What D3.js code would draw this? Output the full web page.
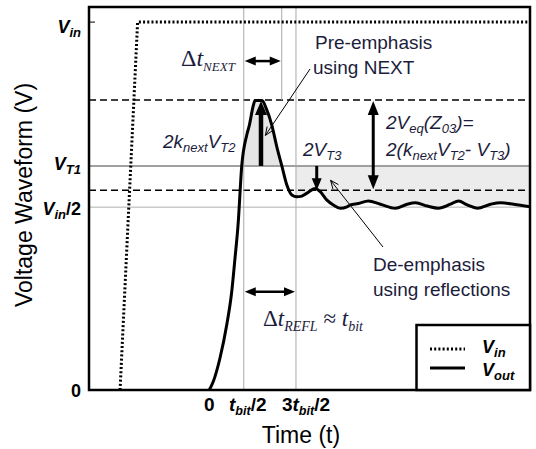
<!DOCTYPE html>
<html>
<head>
<meta charset="utf-8">
<script src="https://cdn.jsdelivr.net/npm/d3@7"></script>
<style>
  body { margin: 0; background: #fff; }
  svg { display: block; }
</style>
</head>
<body>
<div id="chart"></div>
<script>
// ---- data (time in arbitrary units, voltage normalised to Vin = 1) ----
var vinT = [-89, -71.5, 321];
var vinV = [0, 1, 1];

var voutT = [0, 4, 10.7, 17.4, 22.4, 25.7, 28.7, 32.4, 37.4, 40, 44, 45.7, 52.7, 56.7, 62.4, 67.4,
  72.4, 77.4, 82.4, 87.4, 92.4, 97.4, 105.7, 110.7, 117.4, 123.7, 130.7, 137.4, 140.7, 148.7,
  158.7, 170.7, 185.7, 197.4, 205.7, 217.4, 228.7, 240.7, 248.7, 257.4, 267.4, 280.7, 290.7,
  303.7, 320.5];
var voutV = [0, 0.023, 0.087, 0.177, 0.267, 0.359, 0.448, 0.609, 0.693, 0.72, 0.774, 0.787, 0.787,
  0.766, 0.72, 0.661, 0.609, 0.557, 0.53, 0.525, 0.527, 0.535, 0.548, 0.539, 0.516, 0.503, 0.494,
  0.498, 0.503, 0.507, 0.514, 0.505, 0.494, 0.505, 0.509, 0.5, 0.494, 0.505, 0.514, 0.503, 0.494,
  0.505, 0.509, 0.505, 0.498];

var yTickVals = [0, 0.497, 0.609, 1];
var xTickVals = [0, 34.4, 86.5];
var tNext = 72.3;          // end of the NEXT window
var vPeak = 0.788;         // upper dashed level
var vT1 = 0.609;
var vLow = 0.543;          // lower dashed level

// ---- layout ----
var svgwidth = 536, svgheight = 449;
var frame = { left: 89, top: 7, right: 530, bottom: 390 };
var ink = "#1c1c3c";
var sans = "Arial, 'Liberation Sans', sans-serif";
var serif = "'Times New Roman', 'Liberation Serif', serif";

var svg = d3.select("#chart").append("svg")
  .attr("width", svgwidth)
  .attr("height", svgheight);

var defs = svg.append("defs");
defs.append("clipPath").attr("id", "plotclip")
  .append("rect")
  .attr("x", frame.left).attr("y", frame.top)
  .attr("width", frame.right - frame.left).attr("height", frame.bottom - frame.top);

var xscale = d3.scaleLinear().domain([-120, 320]).range([frame.left, frame.right]);
var yscale = d3.scaleLinear().domain([0, 1.041]).range([frame.bottom, frame.top]);

var vin = vinT.map(function(t, i) { return { t: t, v: vinV[i] }; });
var vout = voutT.map(function(t, i) { return { t: t, v: voutV[i] }; });

// rich text helper: parts = [{t, sub, style, size}]
function richText(sel, x, y, parts, o) {
  var txt = sel.append("text")
    .attr("x", x).attr("y", y)
    .attr("font-family", o.family || sans)
    .attr("font-size", o.size)
    .attr("font-weight", o.weight || "normal")
    .attr("font-style", o.style || "normal")
    .attr("text-anchor", o.anchor || "start")
    .attr("fill", o.fill || "#000");
  var shift = 0;
  var subShift = o.subShift != null ? o.subShift : o.size * 0.32;
  parts.forEach(function(p) {
    var target = p.sub ? subShift : 0;
    var s = txt.append("tspan").text(p.t).attr("dy", target - shift);
    shift = target;
    if (p.sub) s.attr("font-size", o.subSize || o.size * 0.68);
    if (p.size) s.attr("font-size", p.size);
    if (p.style) s.attr("font-style", p.style);
    if (p.family) s.attr("font-family", p.family);
    if (p.weight) s.attr("font-weight", p.weight);
  });
  return txt;
}

function arrowHead(g, x, y, dir, len, wid) {
  // dir: "up", "down", "left", "right" ; (x,y) is the tip
  var pts;
  if (dir === "up") pts = [[x, y], [x - wid / 2, y + len], [x + wid / 2, y + len]];
  if (dir === "down") pts = [[x, y], [x - wid / 2, y - len], [x + wid / 2, y - len]];
  if (dir === "left") pts = [[x, y], [x + len, y - wid / 2], [x + len, y + wid / 2]];
  if (dir === "right") pts = [[x, y], [x - len, y - wid / 2], [x - len, y + wid / 2]];
  g.append("polygon").attr("points", pts.map(function(p) { return p.join(","); }).join(" "))
    .attr("fill", "#000");
}

var plot = svg.append("g").attr("clip-path", "url(#plotclip)");

// ---- shaded areas ----
var shadeArea = d3.area()
  .x(function(d) { return xscale(d.t); })
  .y0(yscale(vT1))
  .y1(function(d) { return yscale(d.v); })
  .curve(d3.curveMonotoneX);

defs.append("clipPath").attr("id", "peakclip").append("rect")
  .attr("x", xscale(xTickVals[1])).attr("y", frame.top)
  .attr("width", xscale(tNext) - xscale(xTickVals[1])).attr("height", yscale(vT1) - frame.top);
defs.append("clipPath").attr("id", "bandclip").append("rect")
  .attr("x", xscale(xTickVals[2])).attr("y", yscale(vT1))
  .attr("width", frame.right - xscale(xTickVals[2])).attr("height", 60);

plot.append("path").datum(vout).attr("d", shadeArea)
  .attr("fill", "#e6e6e6").attr("clip-path", "url(#peakclip)");
plot.append("path").datum(vout).attr("d", shadeArea)
  .attr("fill", "#ececec").attr("clip-path", "url(#bandclip)");

// ---- reference lines ----
plot.append("line")
  .attr("x1", frame.left).attr("x2", frame.right)
  .attr("y1", yscale(0.497)).attr("y2", yscale(0.497))
  .attr("stroke", "#b0b0b0").attr("stroke-width", 1);
plot.append("line")
  .attr("x1", frame.left).attr("x2", frame.right)
  .attr("y1", yscale(vT1)).attr("y2", yscale(vT1))
  .attr("stroke", "#a0a0a0").attr("stroke-width", 2);
[vPeak, vLow].forEach(function(v) {
  plot.append("line")
    .attr("x1", frame.left).attr("x2", frame.right)
    .attr("y1", yscale(v)).attr("y2", yscale(v))
    .attr("stroke", "#000").attr("stroke-width", 1.5)
    .attr("stroke-dasharray", "7,4");
});
[xTickVals[1], xTickVals[2]].forEach(function(t) {
  plot.append("line")
    .attr("x1", xscale(t)).attr("x2", xscale(t))
    .attr("y1", frame.top).attr("y2", frame.bottom)
    .attr("stroke", "#a8a8a8").attr("stroke-width", 1);
});
plot.append("line")
  .attr("x1", xscale(tNext)).attr("x2", xscale(tNext))
  .attr("y1", frame.top).attr("y2", yscale(vPeak))
  .attr("stroke", "#a8a8a8").attr("stroke-width", 1);

// ---- series ----
var line = d3.line()
  .x(function(d) { return xscale(d.t); })
  .y(function(d) { return yscale(d.v); });

plot.append("path").datum(vin)
  .attr("d", line)
  .attr("fill", "none").attr("stroke", "#000").attr("stroke-width", 3)
  .attr("stroke-dasharray", "2,2.2");

plot.append("path").datum(vout)
  .attr("d", line.curve(d3.curveMonotoneX))
  .attr("fill", "none").attr("stroke", "#000").attr("stroke-width", 3)
  .attr("stroke-linejoin", "round");

// ---- frame ----
svg.append("rect")
  .attr("x", frame.left).attr("y", frame.top)
  .attr("width", frame.right - frame.left).attr("height", frame.bottom - frame.top)
  .attr("fill", "none").attr("stroke", "#000").attr("stroke-width", 2.5);
svg.append("line")
  .attr("x1", frame.left).attr("x2", frame.left + 6)
  .attr("y1", yscale(1)).attr("y2", yscale(1))
  .attr("stroke", "#000").attr("stroke-width", 1);

// ---- arrows ----
var ann = svg.append("g");
function hArrow(t1, t2, v) {
  var x1 = xscale(t1), x2 = xscale(t2), y = yscale(v);
  ann.append("line").attr("x1", x1 + 6).attr("x2", x2 - 6).attr("y1", y).attr("y2", y)
    .attr("stroke", "#000").attr("stroke-width", 2.5);
  arrowHead(ann, x1 + 1, y, "left", 11, 9);
  arrowHead(ann, x2 - 1, y, "right", 11, 9);
}
hArrow(xTickVals[1], tNext, 0.894);
hArrow(xTickVals[1], xTickVals[2], 0.267);

// thick up arrow under the peak
ann.append("line")
  .attr("x1", xscale(51.6)).attr("x2", xscale(51.6))
  .attr("y1", yscale(vT1)).attr("y2", yscale(vPeak) + 10)
  .attr("stroke", "#000").attr("stroke-width", 4.5);
arrowHead(ann, xscale(51.6), yscale(vPeak) + 1, "up", 14, 12);

// 2VT3 down arrow
ann.append("line")
  .attr("x1", xscale(107.2)).attr("x2", xscale(107.2))
  .attr("y1", yscale(vT1)).attr("y2", yscale(vLow) - 8)
  .attr("stroke", "#000").attr("stroke-width", 3);
arrowHead(ann, xscale(107.2), yscale(vLow), "down", 12, 10);

// double vertical arrow
ann.append("line")
  .attr("x1", xscale(163.6)).attr("x2", xscale(163.6))
  .attr("y1", yscale(vPeak) + 10).attr("y2", yscale(vLow) - 10)
  .attr("stroke", "#000").attr("stroke-width", 3);
arrowHead(ann, xscale(163.6), yscale(vPeak) + 1, "up", 14, 11);
arrowHead(ann, xscale(163.6), yscale(vLow) - 1, "down", 14, 11);

// thin pointer lines with open heads
function pointer(x1, y1, x2, y2) {
  ann.append("line").attr("x1", x1).attr("y1", y1).attr("x2", x2).attr("y2", y2)
    .attr("stroke", "#000").attr("stroke-width", 1);
  var a = Math.atan2(y1 - y2, x1 - x2), l = 9, s = 0.4;
  ann.append("polyline")
    .attr("points", [[x2 + l * Math.cos(a - s), y2 + l * Math.sin(a - s)], [x2, y2],
      [x2 + l * Math.cos(a + s), y2 + l * Math.sin(a + s)]].map(function(p) { return p.join(","); }).join(" "))
    .attr("fill", "none").attr("stroke", "#000").attr("stroke-width", 1);
}
pointer(310, 69, xscale(56), yscale(0.692));
pointer(383, 247, xscale(121), yscale(0.57));

// ---- legend ----
var lg = svg.append("g");
lg.append("rect").attr("x", 416.5).attr("y", 325)
  .attr("width", frame.right - 416.5).attr("height", frame.bottom - 325)
  .attr("fill", "#fff").attr("stroke", "#000").attr("stroke-width", 2.5);
lg.append("line").attr("x1", 430).attr("x2", 465).attr("y1", 349).attr("y2", 349)
  .attr("stroke", "#000").attr("stroke-width", 3).attr("stroke-dasharray", "2,2.2");
lg.append("line").attr("x1", 430).attr("x2", 465).attr("y1", 368).attr("y2", 368)
  .attr("stroke", "#000").attr("stroke-width", 3);
richText(lg, 482, 353, [{ t: "V" }, { t: "in", sub: true }],
  { size: 18, weight: "bold", style: "italic", subShift: 4, subSize: 13 });
richText(lg, 482, 376, [{ t: "V" }, { t: "out", sub: true }],
  { size: 18, weight: "bold", style: "italic", subShift: 4, subSize: 13 });

// ---- axis tick labels ----
var yLabelDy = [7, 8, 4, 11];
var yLabels = [
  [{ t: "0", style: "normal" }],
  [{ t: "V" }, { t: "in", sub: true }, { t: "/2", style: "normal" }],
  [{ t: "V" }, { t: "T1", sub: true }],
  [{ t: "V" }, { t: "in", sub: true }]
];
yTickVals.forEach(function(v, i) {
  richText(svg, 81, yscale(v) + yLabelDy[i], yLabels[i],
    { size: 18, weight: "bold", style: "italic", anchor: "end", subShift: 4, subSize: 13 });
});

var xLabelDx = [0, 4, 10];
var xLabels = [
  [{ t: "0" }],
  [{ t: "t", style: "italic" }, { t: "bit", sub: true, style: "italic" }, { t: "/2" }],
  [{ t: "3" }, { t: "t", style: "italic" }, { t: "bit", sub: true, style: "italic" }, { t: "/2" }]
];
xTickVals.forEach(function(t, i) {
  richText(svg, xscale(t) + xLabelDx[i], 411, xLabels[i],
    { size: 19, weight: "bold", anchor: "middle", subShift: 4, subSize: 12.5 });
});

// ---- axis titles ----
svg.append("text")
  .attr("transform", "translate(32,195) rotate(-90)")
  .attr("text-anchor", "middle")
  .attr("font-family", sans).attr("font-size", 23)
  .text("Voltage Waveform (V)");
svg.append("text")
  .attr("x", 301).attr("y", 443)
  .attr("text-anchor", "middle")
  .attr("font-family", sans).attr("font-size", 23)
  .text("Time (t)");

// ---- annotation text ----
richText(svg, 181, 66, [{ t: "\u0394", style: "normal" }, { t: "t" }, { t: "NEXT", sub: true }],
  { family: serif, size: 24, style: "italic", fill: ink, subShift: 5, subSize: 13 });
richText(svg, 263, 326, [{ t: "\u0394", style: "normal" }, { t: "t" }, { t: "REFL", sub: true },
  { t: " \u2248 ", style: "normal" }, { t: "t" }, { t: "bit", sub: true }],
  { family: serif, size: 23, style: "italic", fill: ink, subShift: 5, subSize: 14 });

richText(svg, 163, 148, [{ t: "2k" }, { t: "next", sub: true }, { t: "V" }, { t: "T2", sub: true }],
  { size: 19, style: "italic", fill: ink, subShift: 4, subSize: 13 });
richText(svg, 303, 156, [{ t: "2V" }, { t: "T3", sub: true }],
  { size: 19, style: "italic", fill: ink, subShift: 4, subSize: 13 });
richText(svg, 386, 129, [{ t: "2V" }, { t: "eq", sub: true }, { t: "(Z" }, { t: "03", sub: true }, { t: ")=" }],
  { size: 19, style: "italic", fill: ink, subShift: 4, subSize: 13 });
richText(svg, 386, 156, [{ t: "2(k" }, { t: "next", sub: true }, { t: "V" }, { t: "T2", sub: true },
  { t: "- V" }, { t: "T3", sub: true }, { t: ")" }],
  { size: 19, style: "italic", fill: ink, subShift: 4, subSize: 13 });

[["Pre-emphasis", 315, 49], ["using NEXT", 313, 74],
 ["De-emphasis", 373, 271], ["using reflections", 373, 296]].forEach(function(d) {
  svg.append("text")
    .attr("x", d[1]).attr("y", d[2])
    .attr("font-family", sans).attr("font-size", 19)
    .attr("fill", ink)
    .text(d[0]);
});
</script>
</body>
</html>
